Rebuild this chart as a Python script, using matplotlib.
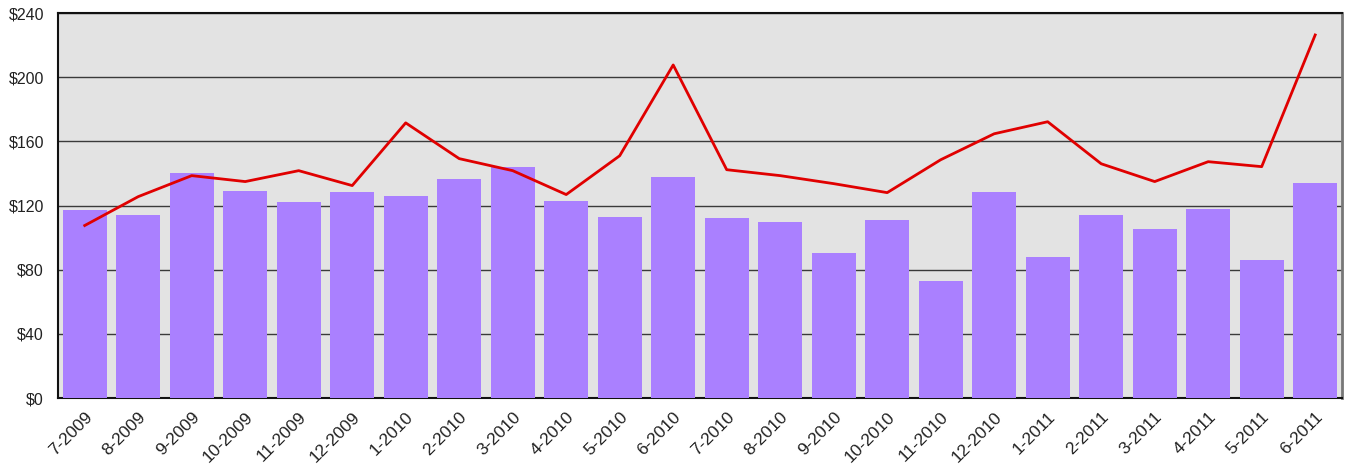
import matplotlib.pyplot as plt
import numpy as np

# Monthly values
months = ['7-2009', '8-2009', '9-2009', '10-2009', '11-2009', '12-2009',
          '1-2010', '2-2010', '3-2010', '4-2010', '5-2010', '6-2010',
          '7-2010', '8-2010', '9-2010', '10-2010', '11-2010', '12-2010',
          '1-2011', '2-2011', '3-2011', '4-2011', '5-2011', '6-2011']
bar_values = [117.5, 114.4, 140.5, 129.4, 122.5, 128.7,
              126.2, 136.8, 144.3, 123.1, 112.6, 138.0,
              112.0, 109.5, 90.2, 111.3, 72.8, 128.7,
              87.7, 114.4, 105.7, 118.2, 85.8, 134.3]
line_values = [107.6, 125.6, 138.7, 135.0, 141.8, 132.5,
               171.6, 149.3, 141.8, 126.9, 151.1, 207.7,
               142.4, 138.7, 133.7, 128.1, 148.6, 164.8,
               172.3, 146.1, 135.0, 147.4, 144.3, 226.4]
y_ticks = [0, 40, 80, 120, 160, 200, 240]

plt.rcParams['font.family'] = ['Liberation Sans', 'DejaVu Sans']

fig = plt.figure(figsize=(13.48, 4.70), dpi=100)
ax = fig.add_axes([0.043, 0.153, 0.9525, 0.819])
ax.set_facecolor('#e3e3e3')

x = np.arange(len(months))
ax.bar(x, bar_values, width=0.82, color='#aa80ff', zorder=3)
ax.plot(x, line_values, color='#e00000', linewidth=2, zorder=4)

ax.set_xlim(-0.5, len(months) - 0.5)
ax.set_ylim(0, 240)
ax.set_yticks(y_ticks)
ax.set_yticklabels(['$%d' % v for v in y_ticks], fontsize=11.5, color='#222222')
ax.set_xticks(x)
ax.set_xticklabels(months, rotation=45, ha='right', rotation_mode='anchor',
                   fontsize=12.5, color='#222222')
ax.tick_params(length=0)
ax.tick_params(axis='y', pad=10)
ax.tick_params(axis='x', pad=8)

ax.grid(axis='y', color='#3a3a3a', linewidth=1.0, zorder=1)
ax.set_axisbelow(True)
for side in ['left', 'top', 'bottom']:
    ax.spines[side].set_color('#111111')
    ax.spines[side].set_linewidth(1.5)
ax.spines['right'].set_color('#777777')
ax.spines['right'].set_linewidth(2)

fig.savefig('out.png', dpi=100)
